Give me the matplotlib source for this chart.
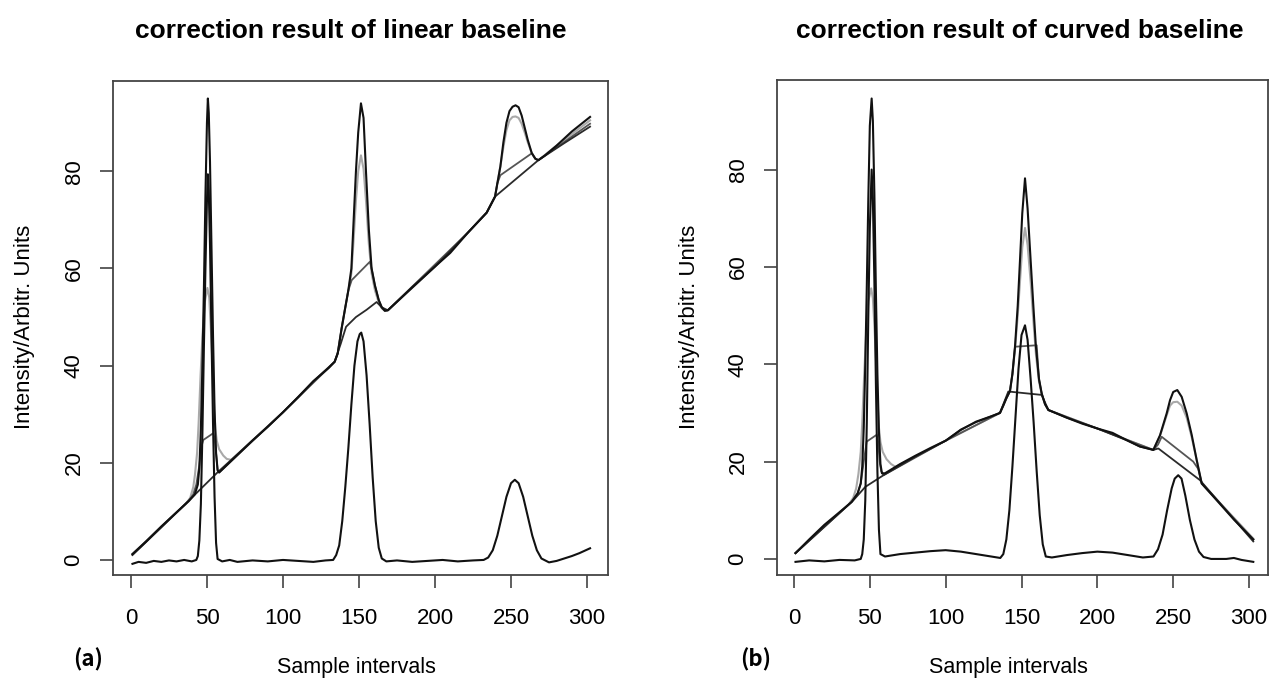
import matplotlib
matplotlib.use("Agg")
import matplotlib.pyplot as plt

plt.rcParams['font.family'] = ['Liberation Sans', 'DejaVu Sans']

# ---------------- data: left panel (linear baseline) ----------------
L_orig_x = [1,10,20,30,38,42,44,45,46,47,48,49,50,50.6,51.2,52,53,54,55,56,57,58,60,70,80,90,100,110,120,130,134,136,138.6,141,143,145,146.5,148,149.5,151.3,153,154.6,156.5,158.3,160.5,163,165,167,169,180,190,200,210,222,234,239.5,241,243,245,247,249,251,253,255,257,259,261,263.6,266,268,272,280,290,302]
L_orig_y = [1.2,3.8,6.9,9.8,12.1,13.5,15.5,19,27,40,56,75,90,95,92,82,64,46,31,22,18.5,18.0,18.6,21.6,24.6,27.4,30.4,33.5,36.8,39.5,40.8,42.5,47.7,52,55.5,60,70,80,88,94,91,80,68,60,56.5,53.5,52,51.3,51.4,54.6,57.5,60.4,63.2,67.5,71.5,74.8,77.5,81,86,90,92.4,93.3,93.6,93.2,91.5,89,86.5,83.8,82.6,82.3,83.2,85.3,88.2,91.2]

L_gray1_x = [1,36,39,41,42.1,43.5,44.5,45.8,47,48.5,50.3,51.5,52.5,53.7,54.5,55.5,56.5,58,60.7,63,66,100,134,136,138.6,141,143,145,146.5,148,149.5,151.3,153,154.6,156.5,158.3,160.5,163,165,167,169,200,222,234,239.5,241,243,245,247,249,251,253,255,257,259,261,263.6,266,268,280,302]
L_gray1_y = [1.2,11.5,12.8,15,17.5,22,28,38,46,53,56,54,48,40,33,27,24.5,22.8,21.5,20.8,20.6,30.4,40.8,42.5,47.7,52,55.5,59,66,74,80,83.3,80.5,74,65,59,55.5,53,51.8,51.3,51.4,60.4,67.5,71.5,74.8,77.5,81,85,88.5,90.5,91.2,91.3,91,89.8,88,86,83.8,82.6,82.3,85.3,90.5]

L_plat_x = [1,38,41,43,45,46.5,47.6,54.2,55,56,57,58,100,134,136,138.6,141,143,145.2,157.2,158.3,160.5,163,165,167,169,222,234,239.5,241,243,263.6,266,268,302]
L_plat_y = [1.2,12.2,13.5,15.5,19.5,23.5,24.7,26.1,25,22,18.5,18,30.4,40.8,42.5,47.7,52,55.5,57.6,61.4,60,56.5,53.5,52,51.3,51.4,67.5,71.5,74.8,77.5,79.2,83.7,82.6,82.3,89.8]

L_base_x = [1,20,39,57.2,80,100,120,134,138,141.5,148,155,161.6,165,169,185,200,222,234,239.5,268,285,302]
L_base_y = [1.0,6.7,12.5,18.1,24.6,30.4,36.8,40.8,44.5,48,50,51.5,53.1,52.0,51.4,56.2,60.4,67.5,71.5,74.8,82.3,85.8,89.2]

L_corr_x = [1,5,10,15,20,25,30,35,40,43,44,45,46,47,48,49,50,50.6,51.2,52,53,54,55,56,57,60,65,70,80,90,100,110,120,128,133,135,137,139,141,143,145,147,149,150.5,151.5,153,155,157,159,161,163,165,168,175,185,195,205,215,225,232,235,238,241,244,247,250,252.5,255,258,261,264,267,270,275,280,285,290,295,302]
L_corr_y = [-0.8,-0.4,-0.6,-0.2,-0.4,-0.1,-0.3,0,-0.3,0,0.8,4,11.5,26,44,60,74,79.4,76,65,46,28,13,3.5,0.2,-0.3,0,-0.4,-0.1,-0.3,0,-0.2,-0.4,-0.1,0,1,3,8,15,23,32,40,45,46.5,46.8,45,38,28,17,8,2.5,0.3,-0.3,-0.1,-0.4,-0.2,0,-0.3,-0.1,0,0.5,2,5,9,13,15.8,16.5,15.8,13,9,5,2,0.3,-0.5,-0.2,0.3,0.8,1.4,2.4]

# ---------------- data: right panel (curved baseline) ----------------
R_orig_x = [1,10,20,30,38,42,44,45,46,47,48,49,50,51.2,52,53,54,55,56,57,58,60,70,80,90,100,110,120,130,135.8,138,140,142.4,144,145.7,147.5,149,150.5,152.3,154,156,157.8,159.5,161.5,163.3,165.5,167.7,180,190,200,210,220,228,236.9,241.3,245.7,247.9,250,252.7,255.6,258.9,262.2,265.5,268.8,280,290,302.8]
R_orig_y = [1.2,4,7,9.6,11.7,13.5,15.5,19,27,40,56,74,89,94.6,90,75,55,38,26,19.5,17.6,17.6,19.5,21.2,22.8,24.3,26.5,28.2,29.3,30,31.5,33,34.5,38,43.6,52,61.4,71,78.2,72,61.4,52,43.6,37,34,31.8,30.6,29,27.8,26.8,25.9,24.3,23.1,22.4,25.4,29.9,32.6,34.3,34.7,33.3,29.9,25.5,20.3,15.5,11.6,8.1,4.0]

R_gray1_x = [1,36,39,41,42.5,44,45,46.3,47.5,49,50.9,52,53,54.2,55,56,57,58.5,61,64,67,100,135.8,140,142.4,144,145.7,147.5,149,150.5,152.3,154,156,157.8,159.5,161.5,163.3,165.5,167.7,200,236.9,241.3,245.7,247.9,250,252.7,255.6,258.9,262.2,265.5,268.8,302.8]
R_gray1_y = [1.2,11.2,12.5,14.5,17.5,22,28,38,46,53,55.6,53.5,48,40,33,27,24,22,20.5,19.5,18.9,24.3,30,33,34.5,38,43,50,57,64,68,64.5,57,49,42,36.5,33.8,31.8,30.6,26.8,22.4,25.3,29.5,31.5,32.2,32.3,31.5,29,25,20.3,15.5,4.2]

R_plat_x = [1,38,42,44,46,47.9,54.5,55.5,56.5,57.5,59,100,135.8,140,142.4,144,145.7,160,161.5,163.3,165.5,167.7,200,236.9,240,242.4,263.2,266.5,268.8,302.8]
R_plat_y = [1.2,11.7,13.5,15.5,20,24.1,25.5,24,20,18,17.2,24.3,30,33,34.5,38,43.6,43.9,37,34,31.8,30.6,26.8,22.4,23.5,25.1,20.0,18.5,15.5,4.0]

R_base_x = [1,39,47,59,80,100,110,120,130,135.8,141.3,163.3,167.7,180,200,220,228,236.9,240.2,267.6,302.8]
R_base_y = [1.2,12,14.8,17.2,21,24.3,26.6,28.1,29.3,30,34.4,33.7,30.6,29,26.8,24.3,23.1,22.4,22.7,16.2,3.6]

R_corr_x = [1,10,20,30,40,44,45,46,47,48,49,50,51.2,52,53,54,55,56,57,60,70,80,90,100,110,120,130,136,138,140,142,144,146,148,150,152.3,154,156,158,160,162,164,166,170,180,190,200,210,220,230,237,240,243,246,249,251,253.3,255.5,258,261,264,267,270,275,280,285,290,295,302.8]
R_corr_y = [-0.6,-0.3,-0.5,-0.2,-0.3,0,1,4,12,28,50,68,80,74,57,36,18,6,1,0.5,1,1.3,1.6,1.8,1.5,1,0.5,0.2,1,4,10,19,29,39,46,48,45,37,28,18,9,3,0.5,0.3,0.8,1.2,1.5,1.3,0.8,0.3,0.5,2,5,10,14.5,16.5,17.2,16.5,13,8,4,1.5,0.4,0,0,0,0.2,-0.2,-0.6]

x_ticks = [0, 50, 100, 150, 200, 250, 300]
y_ticks = [0, 20, 40, 60, 80]
titles = ["correction result of linear baseline", "correction result of curved baseline"]
panel_tags = ["(a)", "(b)"]
x_label = "Sample intervals"
y_label = "Intensity/Arbitr. Units"

W, H = 1271, 686
fig = plt.figure(figsize=(W / 100, H / 100), dpi=100)


def fx(px):
    return px / W


def fy(py):
    return 1 - py / H


axL = fig.add_axes([fx(113), fy(575), (608 - 113) / W, (575 - 81) / H])
axR = fig.add_axes([fx(777), fy(575), (1268 - 777) / W, (575 - 80) / H])

panels = [
    (axL, L_gray1_x, L_gray1_y, L_plat_x, L_plat_y, L_base_x, L_base_y, L_orig_x, L_orig_y, L_corr_x, L_corr_y, (-11.8, 313.8), (-3.1, 98.6)),
    (axR, R_gray1_x, R_gray1_y, R_plat_x, R_plat_y, R_base_x, R_base_y, R_orig_x, R_orig_y, R_corr_x, R_corr_y, (-11.2, 312.5), (-3.3, 98.4)),
]

for (ax, gx, gy, px_, py_, bx, by, ox, oy, cx, cy, xl, yl) in panels:
    ax.plot(gx, gy, color='#a9a9a9', lw=1.5, solid_joinstyle='round')
    ax.plot(px_, py_, color='#555555', lw=1.3, solid_joinstyle='round')
    ax.plot(bx, by, color='#2a2a2a', lw=1.3, solid_joinstyle='round')
    ax.plot(ox, oy, color='#111111', lw=1.5, solid_joinstyle='round')
    ax.plot(cx, cy, color='#111111', lw=1.5, solid_joinstyle='round')
    ax.set_xlim(*xl)
    ax.set_ylim(*yl)
    ax.set_xticks(x_ticks)
    ax.set_yticks(y_ticks)
    ax.set_xticklabels([str(t) for t in x_ticks], fontsize=16)
    ax.set_yticklabels([str(t) for t in y_ticks], fontsize=16, rotation=90, va='center')
    ax.tick_params(axis='both', direction='out', length=9.5, width=1.1, color='#333333')
    ax.tick_params(axis='x', pad=14)
    ax.tick_params(axis='y', pad=11)
    for s in ax.spines.values():
        s.set_color('#444444')
        s.set_linewidth(1.3)

# titles
fig.text(fx(351), fy(38), titles[0], ha='center', va='baseline', fontsize=19, fontweight='bold')
fig.text(fx(1020), fy(38), titles[1], ha='center', va='baseline', fontsize=19, fontweight='bold')

# axis labels
fig.text(fx(25), fy(327), y_label, rotation=90, ha='center', va='center', fontsize=16)
fig.text(fx(690), fy(327), y_label, rotation=90, ha='center', va='center', fontsize=16)
fig.text(fx(356), fy(667), x_label, ha='center', va='center', fontsize=15.5)
fig.text(fx(1008), fy(667), x_label, ha='center', va='center', fontsize=15.5)

# panel tags
fig.text(fx(88), fy(660), panel_tags[0], ha='center', va='center', fontsize=16, fontweight='bold',
         family=['Noto Sans CJK SC', 'DejaVu Sans'])
fig.text(fx(756), fy(660), panel_tags[1], ha='center', va='center', fontsize=16, fontweight='bold',
         family=['Noto Sans CJK SC', 'DejaVu Sans'])

fig.savefig("out.png", dpi=100)
